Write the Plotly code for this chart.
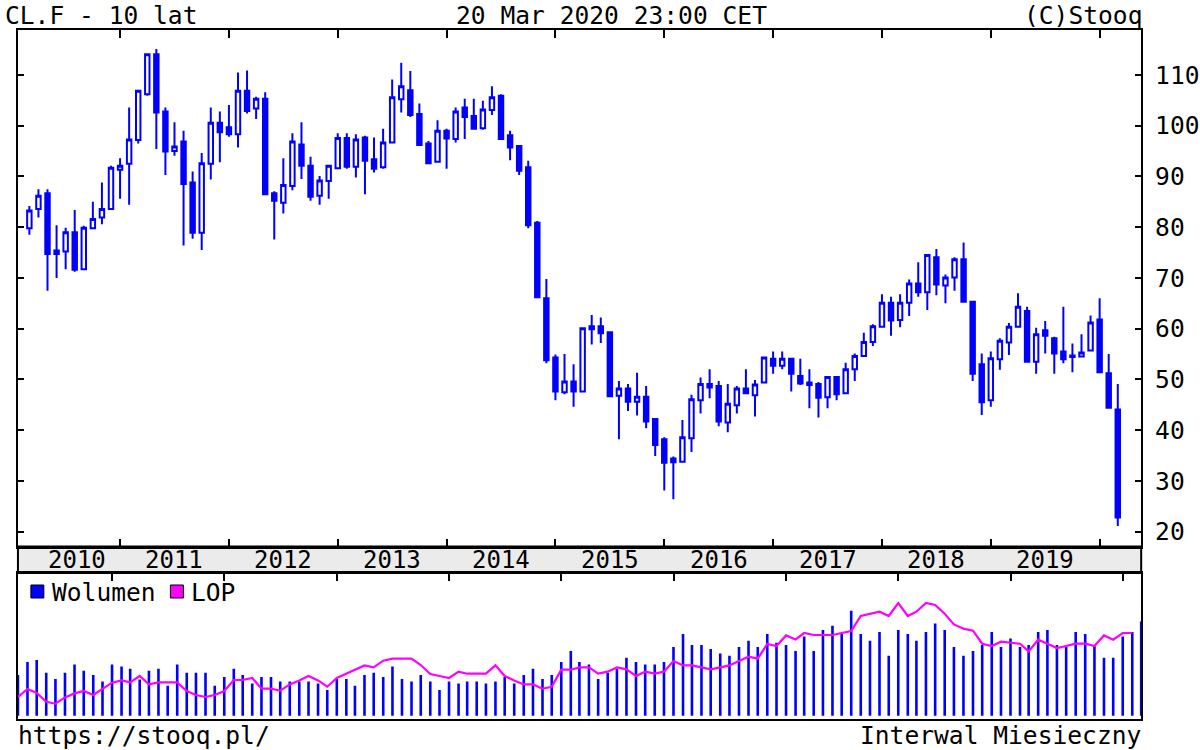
import pandas as pd
import plotly.graph_objects as go

BLUE = "#0000ff"
MAGENTA = "#ff00ff"
FONT = "DejaVu Sans Mono"
W, H = 1200, 750

MONTHS = pd.date_range("2010-03-01", periods=121, freq="MS").strftime("%Y-%m").tolist()

OPEN = [
    79.8, 83.6, 86.7, 75.4, 75.2, 79.0, 71.7, 79.8, 81.9, 83.6,
    91.3, 92.5, 97.2, 106.2, 114.1, 102.8, 95.0, 96.9, 88.8, 78.9, 92.5, 100.6,
    99.7, 98.3, 106.9, 103.4, 105.3, 86.7, 84.8, 88.1, 96.3, 92.1, 86.2, 89.1,
    91.6, 97.6, 91.9, 97.7, 93.4, 91.8, 96.7, 105.2, 107.0, 102.3, 96.5, 92.9,
    99.0, 97.4, 103.6, 101.9, 99.5, 103.1, 105.9, 98.1, 96.0, 91.8, 80.9, 66.0,
    54.3, 47.5, 49.6, 47.6, 60.5, 60.5, 59.3, 46.8, 48.2, 45.6, 46.6, 42.2,
    38.2, 34.4, 33.8, 38.4, 45.9, 49.1, 48.7, 41.5, 44.9, 48.2, 46.9, 49.4,
    54.1, 52.7, 54.1, 50.7, 49.4, 49.1, 46.5, 50.5, 47.3, 52.0, 54.6, 57.4,
    60.4, 65.1, 61.7, 65.1, 68.9, 67.2, 74.1, 68.5, 70.1, 73.7, 65.3, 53.0,
    45.9, 54.0, 57.3, 60.4, 63.5, 53.5, 59.7, 58.1, 55.5, 54.4, 54.5, 55.7,
    61.8, 51.2, 44.1,
]
HIGH = [
    84.2, 87.5, 87.5, 80.4, 79.9, 83.4, 80.3, 85.0, 88.8, 92.1,
    93.6, 103.6, 106.9, 114.1, 115.1, 103.6, 100.7, 99.0, 91.0, 94.6, 103.6, 102.8,
    104.1, 110.5, 110.9, 105.7, 106.6, 87.1, 93.6, 98.5, 100.7, 93.9, 90.1, 92.1,
    98.5, 98.5, 98.3, 98.0, 97.7, 99.4, 109.1, 112.4, 110.8, 104.4, 97.0, 101.1,
    99.4, 103.6, 105.3, 105.3, 104.9, 107.8, 106.2, 99.0, 96.0, 93.1, 81.2, 69.8,
    54.9, 55.0, 53.0, 60.1, 62.7, 62.2, 59.3, 49.7, 49.1, 51.3, 48.7, 42.3,
    38.6, 34.8, 42.0, 47.0, 50.4, 52.0, 49.7, 49.1, 48.7, 52.0, 49.9, 54.5,
    55.5, 55.5, 54.1, 54.1, 52.0, 49.5, 50.7, 50.7, 53.3, 55.1, 59.2, 60.9,
    66.8, 66.3, 66.8, 69.7, 73.1, 74.7, 75.7, 70.7, 74.1, 77.0, 65.5, 55.1,
    55.5, 58.1, 61.1, 67.0, 64.3, 60.2, 61.5, 58.4, 64.3, 57.1, 58.9, 62.6,
    66.0, 55.0, 49.1,
]
LOW = [
    78.5, 81.9, 67.5, 70.0, 71.7, 71.2, 71.7, 79.8, 80.6, 83.6,
    85.6, 84.4, 96.5, 105.9, 95.4, 90.3, 94.1, 76.4, 77.7, 75.5, 89.4, 92.8,
    97.8, 95.7, 102.4, 101.3, 86.5, 77.6, 82.7, 87.3, 89.5, 85.2, 84.4, 85.6,
    91.6, 91.5, 89.8, 86.5, 90.8, 91.5, 96.7, 102.6, 101.7, 96.2, 92.4, 92.9,
    91.5, 96.7, 97.4, 99.2, 99.2, 102.1, 97.4, 93.2, 90.3, 79.8, 66.2, 53.2,
    45.9, 47.1, 44.6, 47.6, 56.9, 57.2, 46.7, 38.2, 43.8, 42.9, 40.4, 34.9,
    28.1, 26.4, 33.6, 35.7, 43.3, 46.3, 40.8, 39.6, 43.3, 47.3, 42.7, 49.4,
    51.1, 52.0, 47.6, 48.9, 44.3, 42.5, 44.3, 45.9, 47.3, 49.7, 54.6, 56.6,
    60.4, 58.6, 60.3, 62.5, 66.3, 63.7, 66.6, 65.0, 67.5, 65.3, 49.7, 43.0,
    44.6, 51.9, 54.8, 60.4, 53.5, 51.1, 55.1, 51.1, 53.2, 51.4, 54.5, 55.7,
    51.4, 44.2, 21.1,
]
CLOSE = [
    83.3, 86.2, 74.7, 74.7, 79.0, 71.6, 79.9, 81.6, 83.6, 91.7,
    92.1, 97.3, 106.9, 114.1, 102.6, 94.9, 95.9, 88.5, 78.9, 92.6, 100.6, 98.7,
    98.3, 106.9, 102.9, 105.3, 86.5, 85.2, 88.3, 96.9, 92.1, 86.0, 89.2, 92.1,
    97.6, 91.9, 97.3, 93.1, 91.5, 96.7, 105.6, 107.8, 102.1, 96.2, 92.6, 99.0,
    97.5, 102.8, 101.7, 99.4, 103.2, 105.6, 97.4, 95.7, 91.1, 80.4, 66.2, 53.8,
    47.6, 49.6, 47.6, 60.1, 59.9, 59.1, 46.7, 48.2, 45.6, 46.6, 41.7, 37.1,
    33.6, 33.7, 38.6, 46.1, 49.1, 48.4, 41.7, 45.2, 48.2, 47.3, 49.0, 54.3,
    52.7, 54.1, 51.1, 49.2, 48.9, 46.4, 50.5, 47.1, 52.0, 54.6, 57.4, 60.5,
    65.1, 61.6, 65.1, 68.9, 67.2, 74.5, 68.7, 70.1, 73.7, 65.3, 51.1, 45.5,
    54.2, 57.6, 60.4, 64.3, 53.5, 58.9, 58.6, 55.1, 54.0, 54.7, 55.3, 61.2,
    51.4, 44.4, 22.8,
]

# relative monthly volume and open interest (LOP)
VOLUME = [
    40.7, 53.7, 55.7, 43.0, 36.7, 43.0, 51.3, 45.0, 40.7, 34.3,
    51.3, 49.3, 47.0, 36.3, 45.0, 47.0, 30.0, 51.3, 43.0, 43.0, 43.0, 30.0,
    38.7, 47.0, 40.7, 32.3, 38.7, 38.7, 34.3, 34.3, 34.3, 34.3, 32.3, 25.7,
    36.7, 36.7, 30.0, 40.7, 43.0, 38.7, 49.3, 36.7, 34.3, 40.7, 34.3, 25.7,
    34.3, 32.3, 34.3, 34.3, 32.3, 34.3, 38.7, 32.3, 40.7, 47.0, 36.7, 40.7,
    53.7, 64.7, 53.7, 51.3, 36.7, 43.0, 47.0, 58.0, 53.7, 51.3, 51.3, 53.7,
    68.7, 81.7, 70.7, 70.7, 66.7, 62.3, 60.0, 68.7, 75.0, 68.7, 81.7, 73.0,
    70.7, 64.7, 79.3, 64.7, 85.7, 90.0, 81.7, 105.0, 81.7, 75.0, 83.7, 60.0,
    85.7, 81.7, 75.0, 83.7, 92.3, 85.7, 68.7, 60.0, 64.7, 70.7, 83.7, 68.7,
    77.3, 68.7, 70.7, 83.7, 85.7, 70.7, 68.7, 83.7, 81.7, 70.7, 58.0, 58.0,
    79.3, 83.7, 94.3,
]
LOP = [
    18.7, 26.7, 22.7, 14.0, 12.0, 18.3, 22.3, 24.7, 20.7, 26.7,
    33.0, 35.3, 33.3, 39.7, 31.3, 33.3, 33.3, 33.3, 24.7, 20.7, 18.7, 20.7,
    24.7, 35.7, 35.7, 37.7, 27.0, 27.0, 25.0, 31.3, 35.3, 39.7, 35.3, 29.0,
    37.7, 42.0, 46.3, 50.3, 48.3, 55.0, 57.0, 57.0, 57.0, 50.7, 41.7, 39.7,
    37.7, 44.0, 42.0, 42.0, 42.0, 50.3, 39.7, 35.3, 31.3, 31.3, 27.0, 29.0,
    46.0, 46.0, 48.3, 48.3, 42.0, 44.0, 48.3, 46.3, 39.7, 44.0, 42.0, 44.0,
    54.7, 50.3, 50.3, 48.3, 46.3, 48.3, 50.3, 54.7, 59.0, 57.0, 71.7, 69.7,
    80.3, 76.3, 82.7, 80.7, 80.7, 80.7, 82.7, 84.7, 99.7, 102.0, 104.0, 99.7,
    112.7, 99.7, 104.0, 112.7, 110.7, 102.0, 91.3, 87.0, 85.0, 72.0, 69.7, 74.0,
    72.7, 72.0, 64.3, 76.0, 72.0, 67.7, 69.7, 72.0, 72.0, 69.7, 80.3, 76.0,
    82.7, 82.7,
]

YEARS = [str(y) for y in range(2010, 2020)]
YEAR_TICKS = [f"{y}-01" for y in range(2011, 2021)]
PRICE_TICKS = list(range(20, 120, 10))

TEXT_SIZE = 24.6


def px_x(x):
    return x / W


def px_y(y):
    return 1 - y / H


def text(s, x, y, anchor="left", size=TEXT_SIZE):
    return dict(
        text=s, x=px_x(x), y=px_y(y), xref="paper", yref="paper",
        xanchor=anchor, yanchor="middle", showarrow=False,
        font=dict(family=FONT, size=size, color="black"),
    )


# volume drawn as vertical sticks (0 -> value), one segment per month
stick_x, stick_y = [], []
for month, vol in zip(MONTHS, VOLUME):
    stick_x += [month, month, None]
    stick_y += [0, vol, None]

fig = go.Figure()
fig.add_trace(go.Candlestick(
    x=MONTHS, open=OPEN, high=HIGH, low=LOW, close=CLOSE,
    increasing=dict(line=dict(color=BLUE, width=2), fillcolor="white"),
    decreasing=dict(line=dict(color=BLUE, width=2), fillcolor=BLUE),
    whiskerwidth=0, xaxis="x", yaxis="y", hoverinfo="skip",
))
fig.add_trace(go.Scatter(
    x=stick_x, y=stick_y, mode="lines", line=dict(color=BLUE, width=2.6),
    xaxis="x2", yaxis="y2", hoverinfo="skip",
))
fig.add_trace(go.Scatter(
    x=MONTHS[:len(LOP)], y=LOP, mode="lines", line=dict(color=MAGENTA, width=2.2),
    xaxis="x2", yaxis="y2",
))

x_dom = [px_x(18), px_x(1145)]
x_range = [-1.26, 122.58]
frame = dict(showline=True, linecolor="black", linewidth=2, showgrid=False, zeroline=False)

fig.update_layout(
    width=W, height=H,
    margin=dict(l=0, r=0, t=0, b=0),
    paper_bgcolor="white", plot_bgcolor="white",
    showlegend=False,
    font=dict(family=FONT, size=TEXT_SIZE, color="black"),
    xaxis=dict(
        domain=x_dom, anchor="y", type="category", categoryarray=MONTHS,
        categoryorder="array", range=x_range,
        tickvals=YEAR_TICKS, ticks="inside", ticklen=8, tickwidth=2, tickcolor="black",
        showticklabels=False, mirror="ticks", rangeslider=dict(visible=False), **frame,
    ),
    yaxis=dict(
        domain=[px_y(546.5), px_y(30)], anchor="x", side="right", range=[17.08, 118.86],
        tickvals=PRICE_TICKS, ticks="inside", ticklen=6, tickwidth=2, tickcolor="black",
        mirror="ticks", ticklabelstandoff=7, **frame,
    ),
    xaxis2=dict(
        domain=x_dom, anchor="y2", matches="x", side="top",
        tickvals=YEAR_TICKS, ticks="inside", ticklen=8, tickwidth=2, tickcolor="black",
        showticklabels=False, mirror=True, **frame,
    ),
    yaxis2=dict(
        domain=[px_y(719), px_y(573)], anchor="x2", range=[-3.3, 142.7],
        showticklabels=False, ticks="", mirror=True, **frame,
    ),
)

# year strip between the two panels
fig.add_shape(
    type="rect", xref="paper", yref="paper",
    x0=px_x(18), x1=px_x(1145), y0=px_y(573), y1=px_y(546.5),
    fillcolor="#ebebeb", line=dict(color="black", width=2), layer="below",
)
for i, year in enumerate(YEARS):
    xpos = 5.3 if i == 0 else 12 * i + 4
    fig.add_annotation(
        text=year, x=xpos, y=px_y(560), xref="x", yref="paper",
        xanchor="center", yanchor="middle", showarrow=False,
        font=dict(family=FONT, size=24, color="black"),
    )

# legend of the lower panel
for x0, color in [(31, BLUE), (171, MAGENTA)]:
    fig.add_shape(
        type="rect", xref="paper", yref="paper",
        x0=px_x(x0), x1=px_x(x0 + 13), y0=px_y(598), y1=px_y(585),
        fillcolor=color, line=dict(color="black", width=1),
    )
fig.add_annotation(text("Wolumen", 50, 592))
fig.add_annotation(text("LOP", 190, 592))

fig.add_annotation(text("CL.F - 10 lat", 3, 15))
fig.add_annotation(text("20 Mar 2020 23:00 CET", 614, 15, "center"))
fig.add_annotation(text("(C)Stooq", 1148, 15, "right"))
fig.add_annotation(text("https://stooq.pl/", 16, 735))
fig.add_annotation(text("Interwal Miesieczny", 1147, 735, "right"))

fig.write_html(
    "out.html",
    config={"displayModeBar": False},
    post_script="document.body.style.margin='0';document.body.style.overflow='hidden';",
)
